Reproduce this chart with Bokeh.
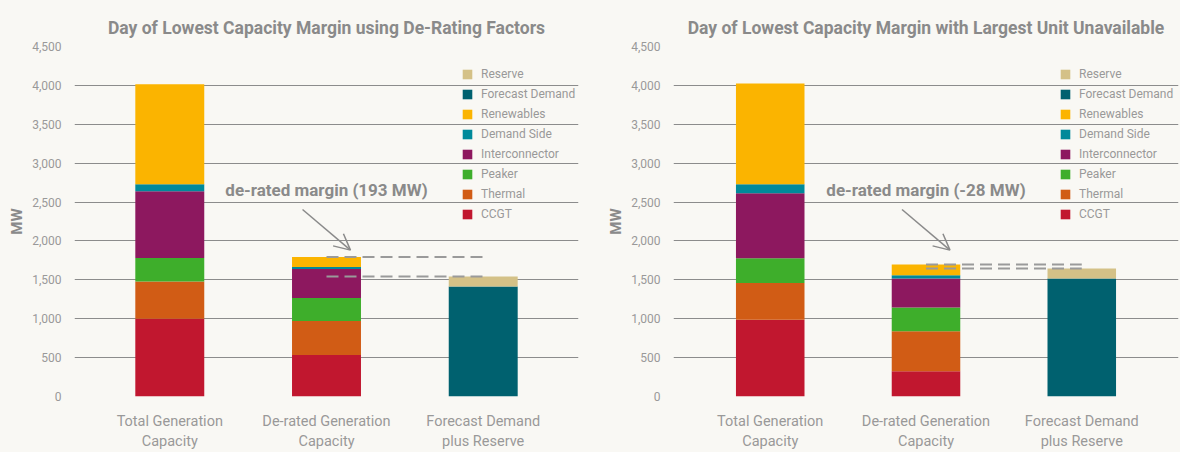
from bokeh.plotting import figure
from bokeh.models import (FactorRange, Range1d, Legend, LegendItem, Arrow, OpenHead, Label,
                          NumeralTickFormatter, FixedTicker, ColumnDataSource, GlobalInlineStyleSheet)
from bokeh.layouts import row
from bokeh.embed import file_html
from bokeh.resources import INLINE

# ---------------- data ----------------
categories = ["Total Generation\nCapacity", "De-rated Generation\nCapacity", "Forecast Demand\nplus Reserve"]
series = ["CCGT", "Thermal", "Peaker", "Interconnector", "Demand Side", "Renewables", "Forecast Demand", "Reserve"]
colors = ["#c1172f", "#d15c15", "#3eae2b", "#8d185f", "#00899a", "#fbb400", "#00616f", "#d4c187"]

# Left chart: Day of Lowest Capacity Margin using De-Rating Factors
ccgt_a = [1000, 535, 0]
thermal_a = [480, 436, 0]
peaker_a = [300, 295, 0]
inter_a = [860, 372, 0]
ds_a = [90, 26, 0]
ren_a = [1285, 128, 0]
fd_a = [0, 0, 1415]
res_a = [0, 0, 128]

# Right chart: Day of Lowest Capacity Margin with Largest Unit Unavailable
ccgt_b = [988, 325, 0]
thermal_b = [470, 513, 0]
peaker_b = [321, 307, 0]
inter_b = [834, 372, 0]
ds_b = [116, 43, 0]
ren_b = [1296, 137, 0]
fd_b = [0, 0, 1517]
res_b = [0, 0, 128]

title_a = "Day of Lowest Capacity Margin using De-Rating Factors"
title_b = "Day of Lowest Capacity Margin with Largest Unit Unavailable"
note_a = "de-rated margin (193 MW)"
note_b = "de-rated margin (-28 MW)"
y_ticks = [0, 500, 1000, 1500, 2000, 2500, 3000, 3500, 4000, 4500]

BG = "#f9f8f4"
GRID = "#8c8c8c"
TXT = "#999999"
DARK = "#8a8a8a"
FONT = "Roboto"


def make_chart(title, cols, note, width, left_border, right_border, pad, arrow_dx, legend_x):
    data = {"cat": categories}
    for name, vals in zip(series, cols):
        data[name] = vals
    src = ColumnDataSource(data)

    p = figure(x_range=FactorRange(*categories, range_padding=pad, range_padding_units="absolute"),
               y_range=Range1d(0, 4500), width=width, height=452,
               output_backend="svg", toolbar_location=None,
               min_border_left=left_border, min_border_right=right_border,
               min_border_top=46, min_border_bottom=56)
    p.background_fill_color = BG
    p.border_fill_color = BG
    p.outline_line_color = None

    p.title.text = title
    p.title.align = "center"
    p.title.text_font = FONT
    p.title.text_font_style = "bold"
    p.title.text_font_size = "17.5px"
    p.title.text_color = DARK
    p.title.standoff = 18

    rs = p.vbar_stack(series, x="cat", width=0.44, color=colors, line_color=None, source=src)

    p.xgrid.grid_line_color = None
    p.ygrid.grid_line_color = GRID
    p.ygrid.grid_line_width = 1
    p.ygrid.ticker = FixedTicker(ticks=y_ticks)

    p.yaxis.ticker = FixedTicker(ticks=y_ticks)
    p.yaxis.formatter = NumeralTickFormatter(format="0,0")
    p.yaxis.axis_line_color = None
    p.yaxis.major_tick_line_color = None
    p.yaxis.minor_tick_line_color = None
    p.yaxis.major_label_text_font = FONT
    p.yaxis.major_label_text_font_size = "12px"
    p.yaxis.major_label_text_color = TXT
    p.yaxis.major_label_standoff = 7
    p.yaxis.axis_label = "MW"
    p.yaxis.axis_label_text_font = FONT
    p.yaxis.axis_label_text_font_style = "bold"
    p.yaxis.axis_label_text_font_size = "15px"
    p.yaxis.axis_label_text_color = DARK
    p.yaxis.axis_label_standoff = 3

    p.xaxis.axis_line_color = None
    p.xaxis.major_tick_line_color = None
    p.xaxis.minor_tick_line_color = None
    p.xaxis.major_label_text_font = FONT
    p.xaxis.major_label_text_font_size = "14.5px"
    p.xaxis.major_label_text_color = TXT
    p.xaxis.major_label_text_line_height = 1.2
    p.xaxis.major_label_standoff = 10

    derated_total = sum(c[1] for c in cols)
    demand_total = sum(c[2] for c in cols)
    p.segment(x0=[categories[1], categories[1]], x1=[categories[2], categories[2]],
              y0=[derated_total, demand_total], y1=[derated_total, demand_total],
              line_color="#9a9a9a", line_width=2, line_dash="12 6")

    p.add_layout(Arrow(end=OpenHead(size=16, line_color=DARK, line_width=1.5),
                       x_start=1.5 - arrow_dx, y_start=2404, x_end=1.5 + arrow_dx, y_end=1882,
                       line_color=DARK, line_width=1.5))
    p.add_layout(Label(x=1.5, y=2650, text=note, text_align="center", text_baseline="middle",
                       text_font=FONT, text_font_style="bold", text_font_size="17px",
                       text_color=DARK))

    items = [LegendItem(label=name, renderers=[r]) for name, r in zip(series, rs)][::-1]
    legend = Legend(items=items, location=(legend_x, 175), orientation="vertical",
                    glyph_width=12, glyph_height=12, label_height=12, label_standoff=8,
                    spacing=6, padding=0, margin=0, border_line_color=None,
                    background_fill_alpha=0, label_text_font=FONT,
                    label_text_font_size="12px", label_text_color=TXT)
    p.add_layout(legend)
    return p


cols_a = [ccgt_a, thermal_a, peaker_a, inter_a, ds_a, ren_a, fd_a, res_a]
cols_b = [ccgt_b, thermal_b, peaker_b, inter_b, ds_b, ren_b, fd_b, res_b]

p1 = make_chart(title_a, cols_a, note_a, 590, 74, 12, 0.108, 0.153, 387)
p2 = make_chart(title_b, cols_b, note_b, 590, 83, 2, 0.121, 0.154, 386)

layout = row(p1, p2, stylesheets=[GlobalInlineStyleSheet(css="html, body { background-color: #f9f8f4; }")])

open("out.html", "w").write(file_html(layout, INLINE))
